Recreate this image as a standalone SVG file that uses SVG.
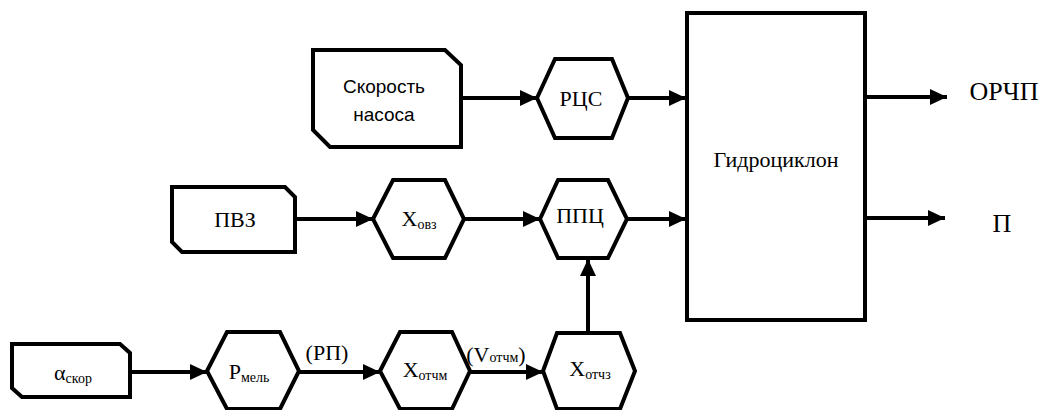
<svg xmlns="http://www.w3.org/2000/svg" width="1043" height="410" viewBox="0 0 1043 410">
<style>
.sh{fill:#fff;stroke:#000;stroke-width:4;stroke-linejoin:miter}
.ln{fill:none;stroke:#000;stroke-width:4}
.t{font-family:'Liberation Serif','Times New Roman',serif;font-size:22px;fill:#000;text-anchor:middle}
.s{font-family:'Liberation Sans',Arial,sans-serif;font-size:19px;fill:#000;text-anchor:middle}
.big{font-size:26px}
.sub{font-size:14px}
</style>
<defs>
<marker id="ah" markerUnits="userSpaceOnUse" markerWidth="18" markerHeight="16" refX="17" refY="8" orient="auto">
<path d="M0,0 L17,8 L0,16 Z" fill="#000"/>
</marker>
</defs>
<g id="connectors">
<path class="ln" d="M461,98 H537" marker-end="url(#ah)"/>
<path class="ln" d="M628,98 H686" marker-end="url(#ah)"/>
<path class="ln" d="M295,219 H373" marker-end="url(#ah)"/>
<path class="ln" d="M464,219 H540" marker-end="url(#ah)"/>
<path class="ln" d="M627,219 H686" marker-end="url(#ah)"/>
<path class="ln" d="M130,372 H207" marker-end="url(#ah)"/>
<path class="ln" d="M299,372 H380" marker-end="url(#ah)"/>
<path class="ln" d="M470,372 H543" marker-end="url(#ah)"/>
<path class="ln" d="M588,333 V259" marker-end="url(#ah)"/>
<path class="ln" d="M865,97 H947" marker-end="url(#ah)"/>
<path class="ln" d="M865,218 H945" marker-end="url(#ah)"/>
<text class="t" x="327" y="360">(РП)</text>
<text class="t" x="496" y="362">(V<tspan class="sub">отчм</tspan>)</text>
</g>
<g id="skorost">
<path class="sh" d="M313,50 H445 L461,65 V147 H330 L313,130 Z"/>
<text class="s" x="384" y="93">Скорость</text>
<text class="s" x="384" y="121">насоса</text>
</g>
<g id="rcs">
<path class="sh" d="M537,98 L555,59 H612 L628,98 L612,138 H555 Z"/>
<text class="t" x="581" y="106">РЦС</text>
</g>
<g id="pvz">
<path class="sh" d="M172,187 H285 L295,197 V252 H182 L172,242 Z"/>
<text class="t" x="235" y="227">ПВЗ</text>
</g>
<g id="xovz">
<path class="sh" d="M373,219 L393,180 H445 L464,219 L445,258 H393 Z"/>
<text class="t" x="419" y="226">X<tspan class="sub" dy="3">овз</tspan></text>
</g>
<g id="ppc">
<path class="sh" d="M540,219 L558,180 H608 L627,219 L608,258 H558 Z"/>
<text class="t" x="580" y="223">ППЦ</text>
</g>
<g id="askor">
<path class="sh" d="M12,344 H120 L130,353 V397 H22 L12,388 Z"/>
<text class="t" x="73" y="380">α<tspan class="sub" dy="3">скор</tspan></text>
</g>
<g id="pmel">
<path class="sh" d="M207,371 L227,332 H280 L299,371 L280,409 H227 Z"/>
<text class="t" x="249" y="379">P<tspan class="sub" dy="3">мель</tspan></text>
</g>
<g id="xotchm">
<path class="sh" d="M380,371 L400,332 H452 L470,371 L452,409 H400 Z"/>
<text class="t" x="425" y="377">X<tspan class="sub" dy="3">отчм</tspan></text>
</g>
<g id="xotchz">
<path class="sh" d="M543,371 L557,333 H620 L635,371 L620,409 H557 Z"/>
<text class="t" x="590" y="376">X<tspan class="sub" dy="3">отчз</tspan></text>
</g>
<g id="gidrociklon">
<rect class="sh" x="687" y="13" width="178" height="307"/>
<text class="t" x="776" y="167">Гидроциклон</text>
</g>
<g id="orchp">
<text class="t big" x="1004" y="100">ОРЧП</text>
</g>
<g id="p">
<text class="t big" x="1002" y="232">П</text>
</g>
</svg>
